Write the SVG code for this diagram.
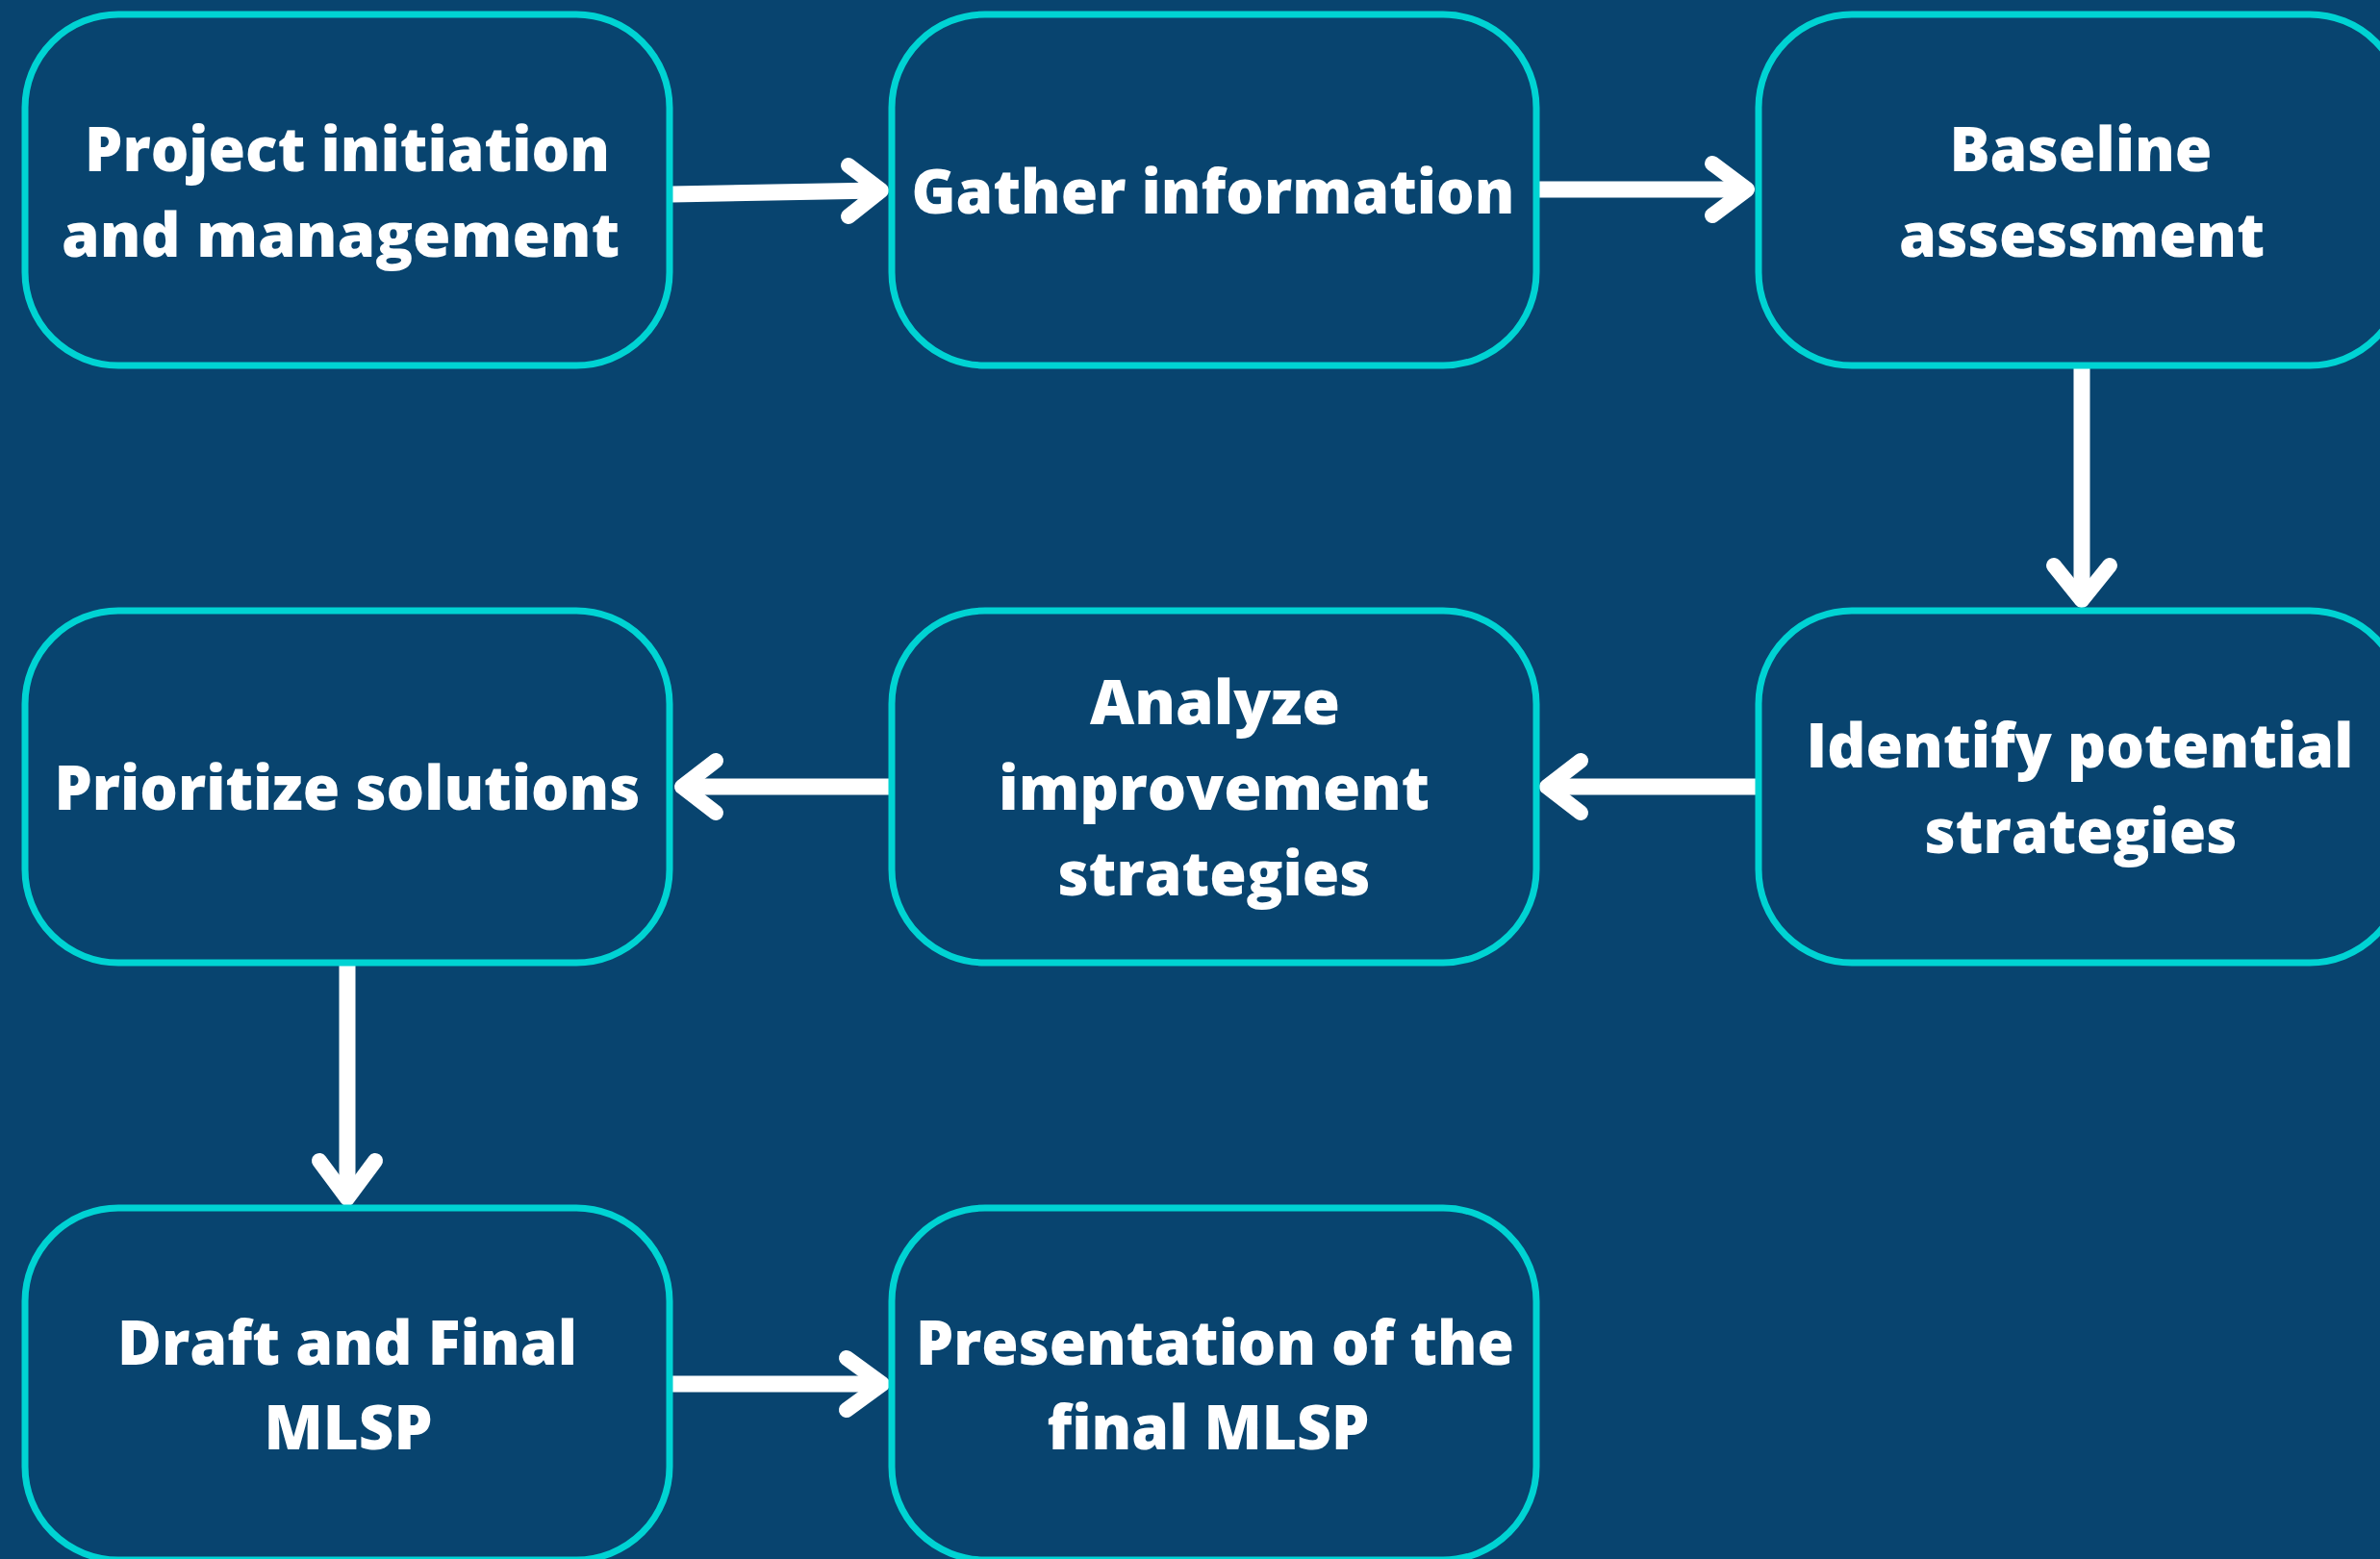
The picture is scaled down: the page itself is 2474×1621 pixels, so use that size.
<svg xmlns="http://www.w3.org/2000/svg" width="2474" height="1621" viewBox="0 0 2474 1621">
  <style>
    .box { fill: #08446f; stroke: #00d3d3; stroke-width: 7; }
    .lbl { fill: #ffffff; font-family: "Open Sans", "Liberation Sans", sans-serif; font-weight: 800; font-size: 63px; text-anchor: middle; }
    .wire { stroke: #ffffff; stroke-width: 17; fill: none; stroke-linecap: butt; }
    .head { stroke: #ffffff; stroke-width: 16; fill: none; stroke-linecap: round; stroke-linejoin: round; }
  </style>
  <rect x="0" y="0" width="2474" height="1621" fill="#08446f"/>

  <!-- connectors -->
  <g id="connectors">
    <path class="wire" d="M698 202 L914 198"/>
    <path class="head" d="M882 172 L916 198 L882 225"/>
    <path class="wire" d="M1599 197 L1814 197"/>
    <path class="head" d="M1780 170 L1816 197 L1780 224"/>
    <path class="wire" d="M2164 383 L2164 620"/>
    <path class="head" d="M2135 588 L2164 624 L2193 588"/>
    <path class="wire" d="M1828 818 L1611 818"/>
    <path class="head" d="M1643 791 L1608 818 L1643 845"/>
    <path class="wire" d="M926 818 L711 818"/>
    <path class="head" d="M744 791 L709 818 L744 845"/>
    <path class="wire" d="M361 1003 L361 1242"/>
    <path class="head" d="M332 1207 L361 1246 L390 1207"/>
    <path class="wire" d="M698 1439 L914 1439"/>
    <path class="head" d="M880 1412 L917 1439 L880 1466"/>
  </g>

  <!-- nodes -->
  <g id="node-project-initiation">
    <rect class="box" x="26" y="15" width="670" height="365" rx="97" ry="97"/>
    <text class="lbl" x="361" y="178" textLength="546" lengthAdjust="spacingAndGlyphs">Project initiation</text>
    <text class="lbl" x="354" y="267" textLength="580" lengthAdjust="spacingAndGlyphs">and management</text>
  </g>
  <g id="node-gather-information">
    <rect class="box" x="927" y="15" width="670" height="365" rx="97" ry="97"/>
    <text class="lbl" x="1261" y="222" textLength="627" lengthAdjust="spacingAndGlyphs">Gather information</text>
  </g>
  <g id="node-baseline-assessment">
    <rect class="box" x="1828" y="15" width="670" height="365" rx="97" ry="97"/>
    <text class="lbl" x="2163" y="178" textLength="273" lengthAdjust="spacingAndGlyphs">Baseline</text>
    <text class="lbl" x="2164" y="267" textLength="380" lengthAdjust="spacingAndGlyphs">assessment</text>
  </g>
  <g id="node-prioritize-solutions">
    <rect class="box" x="26" y="635" width="670" height="366" rx="97" ry="97"/>
    <text class="lbl" x="361" y="842" textLength="609" lengthAdjust="spacingAndGlyphs">Prioritize solutions</text>
  </g>
  <g id="node-analyze-strategies">
    <rect class="box" x="927" y="635" width="670" height="366" rx="97" ry="97"/>
    <text class="lbl" x="1263" y="753" textLength="260" lengthAdjust="spacingAndGlyphs">Analyze</text>
    <text class="lbl" x="1262" y="842" textLength="448" lengthAdjust="spacingAndGlyphs">improvement</text>
    <text class="lbl" x="1262" y="931" textLength="325" lengthAdjust="spacingAndGlyphs">strategies</text>
  </g>
  <g id="node-identify-strategies">
    <rect class="box" x="1828" y="635" width="670" height="366" rx="97" ry="97"/>
    <text class="lbl" x="2162" y="798" textLength="569" lengthAdjust="spacingAndGlyphs">Identify potential</text>
    <text class="lbl" x="2163" y="887" textLength="325" lengthAdjust="spacingAndGlyphs">strategies</text>
  </g>
  <g id="node-draft-final">
    <rect class="box" x="26" y="1256" width="670" height="366" rx="97" ry="97"/>
    <text class="lbl" x="361" y="1419" textLength="478" lengthAdjust="spacingAndGlyphs">Draft and Final</text>
    <text class="lbl" x="362" y="1507" textLength="175" lengthAdjust="spacingAndGlyphs">MLSP</text>
  </g>
  <g id="node-presentation">
    <rect class="box" x="927" y="1256" width="670" height="366" rx="97" ry="97"/>
    <text class="lbl" x="1263" y="1419" textLength="622" lengthAdjust="spacingAndGlyphs">Presentation of the</text>
    <text class="lbl" x="1256" y="1507" textLength="335" lengthAdjust="spacingAndGlyphs">final MLSP</text>
  </g>
</svg>
